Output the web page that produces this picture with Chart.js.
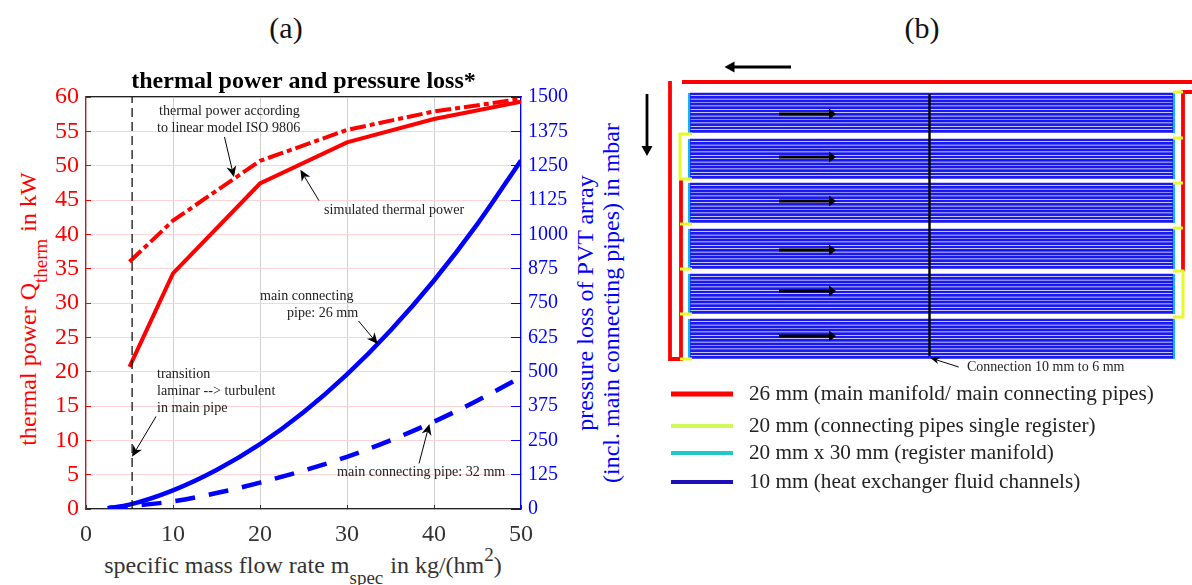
<!DOCTYPE html>
<html>
<head>
<meta charset="utf-8">
<script src="https://cdn.jsdelivr.net/npm/chart.js@4"></script>
<style>
  html, body { margin: 0; padding: 0; background: #fff; }
  body { position: relative; width: 1192px; height: 585px; overflow: hidden; font-family: "Liberation Serif", serif; }
  canvas { position: absolute; top: 0; }
  .txt { position: absolute; white-space: nowrap; transform: translate(-50%, -50%); font-size: 24px; line-height: 1; }
  .rot { transform: translate(-50%, -50%) rotate(-90deg); }
  .txt sub { font-size: 19px; line-height: 0; vertical-align: -11px; margin-right: 7px; }
  .txt sup { font-size: 19px; line-height: 0; vertical-align: 12px; }
</style>
</head>
<body>
<div class="txt" style="left:286px;top:28px;font-size:30px;color:#111">(a)</div>
<div class="txt" style="left:922px;top:28px;font-size:30px;color:#111">(b)</div>
<div class="txt rot" style="left:28px;top:309px;color:#f00">thermal power Q<sub>therm</sub>in kW</div>
<div class="txt rot" style="left:585px;top:303px;color:#00f">pressure loss of PVT array</div>
<div class="txt rot" style="left:611px;top:303px;color:#00f">(incl. main connecting pipes) in mbar</div>
<div class="txt" style="left:303px;top:565px;color:#333">specific mass flow rate m<sub>spec</sub>in kg/(hm<sup>2</sup>)</div>
<canvas id="chart-a" width="608" height="585" style="left:0"></canvas>
<canvas id="chart-b" width="552" height="585" style="left:640px"></canvas>
<script>
// panel (a) values
const simX = [5, 10, 20, 30, 40, 50];
const simulatedPower = [20.7, 34.3, 47.4, 53.4, 56.8, 59.3];
const linearModelPower = [36, 42, 50.7, 55.2, 57.9, 59.7];
const pipeX = [2.5, 5, 10, 15, 20, 25, 30, 35, 40, 45, 50];
const pressure26mm = [3, 16, 68, 142, 236, 352, 490, 650, 832, 1038, 1269];
const pressure32mm = [3, 10, 28, 58, 96, 140, 190, 250, 318, 395, 480];
const transitionX = [5.3, 5.3];
const transitionY = [0, 60];

// panel (b) schematic, in drawing units of its own hidden axes
const registerTops = [93, 139, 183, 229, 274, 319];
const channelOffsets = [1, 4.4, 7.8, 11.2, 14.6, 18, 21.4, 24.8, 28.2, 31.6, 35, 38.4];
const channelEnds = [50, 533];
const mainPipes = [
  [[42, 82], [552, 82]],
  [[30, 81], [30, 359], [41, 359], [41, 179]],
  [[552, 92], [543, 92], [543, 271]]
];
const connectingPipes = [
  [[52, 134], [40, 134], [40, 179], [52, 179]],
  [[40, 224], [52, 224]],
  [[40, 269], [52, 269]],
  [[40, 314], [52, 314]],
  [[40, 359], [52, 359]],
  [[533, 92], [543, 92]],
  [[533, 138], [543, 138]],
  [[533, 183], [543, 183]],
  [[533, 228], [543, 228]],
  [[533, 271], [543, 271], [543, 317], [533, 317]]
];
const connectionLine = [[289.5, 94], [289.5, 356]];
const legendRows = [394, 426, 453, 482];
const legendNames = [
  '26 mm (main manifold/ main connecting pipes)',
  '20 mm (connecting pipes single register)',
  '20 mm x 30 mm (register manifold)',
  '10 mm (heat exchanger fluid channels)'
];
const legendColors = ['#ff0000', '#d0fa5c', '#22c8c8', '#1c10b8'];

function zip(xs, ys) {
  return xs.map((x, i) => ({ x: x, y: ys[i] }));
}

function pathPoints(paths) {
  const pts = [];
  paths.forEach(p => {
    p.forEach(c => pts.push({ x: c[0], y: c[1] }));
    pts.push({ x: null, y: null });
  });
  return pts;
}

// arrows and free labels are placed through the chart's scales
function notesPlugin(arrows, labels) {
  return {
    id: 'notes',
    afterDatasetsDraw(chart) {
      const c = chart.ctx;
      arrows.forEach(a => {
        const xs = chart.scales.x, ys = chart.scales.y;
        const x1 = xs.getPixelForValue(a.from[0]), y1 = ys.getPixelForValue(a.from[1]);
        const x2 = xs.getPixelForValue(a.to[0]), y2 = ys.getPixelForValue(a.to[1]);
        const ang = Math.atan2(y2 - y1, x2 - x1);
        const len = a.head || 11, wide = a.wide || 5;
        c.save();
        c.strokeStyle = c.fillStyle = '#000';
        c.lineWidth = a.width || 1;
        c.beginPath();
        c.moveTo(x1, y1);
        c.lineTo(x2 - Math.cos(ang) * len * 0.7, y2 - Math.sin(ang) * len * 0.7);
        c.stroke();
        c.translate(x2, y2);
        c.rotate(ang);
        c.beginPath();
        c.moveTo(0, 0);
        c.lineTo(-len, -wide);
        c.lineTo(-len * (a.notch || 0.7), 0);
        c.lineTo(-len, wide);
        c.closePath();
        c.fill();
        c.restore();
      });
      labels.forEach(l => {
        c.save();
        c.font = (l.size || 14.1) + 'px "Liberation Serif"';
        c.fillStyle = '#222';
        c.textBaseline = 'middle';
        c.fillText(l.text, chart.scales.x.getPixelForValue(l.x), chart.scales.y.getPixelForValue(l.y));
        c.restore();
      });
    }
  };
}

const notesA = notesPlugin([
  { from: [15.92, 54.17], to: [17.0, 48.35] },
  { from: [26.78, 44.9], to: [24.64, 49.4] },
  { from: [31.33, 27.38], to: [33.53, 24.03] },
  { from: [38.28, 6.64], to: [39.47, 12.38] },
  { from: [8.05, 13.47], to: [5.29, 7.62] }
], [
  { text: 'thermal power according', x: 8.39, y: 57.96 },
  { text: 'to linear model ISO 9806', x: 8.16, y: 55.48 },
  { text: 'simulated thermal power', x: 27.36, y: 43.54 },
  { text: 'main connecting', x: 20, y: 31.02 },
  { text: 'pipe: 26 mm', x: 23.1, y: 28.54 },
  { text: 'transition', x: 8.16, y: 19.66 },
  { text: 'laminar --> turbulent', x: 8.16, y: 17.18 },
  { text: 'in main pipe', x: 8.16, y: 14.71 },
  { text: 'main connecting pipe: 32 mm', x: 28.85, y: 5.39 }
]);

new Chart(document.getElementById('chart-a').getContext('2d'), {
  type: 'scatter',
  data: {
    datasets: [
      { label: 'transition', data: zip(transitionX, transitionY), showLine: true, borderColor: '#000', borderWidth: 1.2, borderDash: [9, 5], pointRadius: 0, yAxisID: 'y' },
      { label: 'thermal power, linear model ISO 9806', data: zip(simX, linearModelPower), showLine: true, borderColor: '#f00', borderWidth: 4, borderDash: [16, 4, 5, 4], pointRadius: 0, yAxisID: 'y' },
      { label: 'simulated thermal power', data: zip(simX, simulatedPower), showLine: true, borderColor: '#f00', borderWidth: 4, pointRadius: 0, yAxisID: 'y' },
      { label: 'pressure loss, pipe 26 mm', data: zip(pipeX, pressure26mm), showLine: true, borderColor: '#00f', borderWidth: 4.5, cubicInterpolationMode: 'monotone', pointRadius: 0, yAxisID: 'y2' },
      { label: 'pressure loss, pipe 32 mm', data: zip(pipeX, pressure32mm), showLine: true, borderColor: '#00f', borderWidth: 4.5, borderDash: [20, 14], cubicInterpolationMode: 'monotone', pointRadius: 0, yAxisID: 'y2' }
    ]
  },
  options: {
    responsive: false,
    animation: false,
    events: [],
    layout: { padding: 0 },
    plugins: {
      legend: { display: false },
      tooltip: { enabled: false },
      title: {
        display: true,
        fullSize: false,
        text: 'thermal power and pressure loss*',
        color: '#000',
        font: { family: '"Liberation Serif"', size: 24, weight: 'bold' },
        padding: { top: 67.5, bottom: 0.7 }
      }
    },
    scales: {
      x: {
        type: 'linear', min: 0, max: 50,
        afterFit: s => { s.height = 76; },
        ticks: { stepSize: 10, color: '#333', padding: 15, maxRotation: 0, font: { family: '"Liberation Serif"', size: 24 } },
        grid: { color: '#d0d0d0', tickColor: '#333', tickLength: -4 },
        border: { color: '#222', width: 1.2 }
      },
      xTop: {
        type: 'linear', position: 'top', min: 0, max: 50,
        afterFit: s => { s.height = 0; },
        ticks: { display: false },
        grid: { display: false },
        border: { color: '#222', width: 1.2 }
      },
      y: {
        min: 0, max: 60,
        afterFit: s => { s.width = 86; },
        ticks: { stepSize: 5, color: '#f00', padding: 12, font: { family: '"Liberation Serif"', size: 24 } },
        grid: { color: '#fbd5d5', tickColor: '#f00', tickLength: -5 },
        border: { color: '#f00', width: 1.2 }
      },
      y2: {
        position: 'right', min: 0, max: 1500,
        afterFit: s => { s.width = 87; },
        ticks: { stepSize: 125, color: '#00f', padding: 17, format: { useGrouping: false }, font: { family: '"Liberation Serif"', size: 20 } },
        grid: { drawOnChartArea: false, tickColor: '#00f', tickLength: -10 },
        border: { color: '#00f', width: 1.2 }
      }
    }
  },
  plugins: [notesA]
});

// panel (b)
const channelPaths = [];
registerTops.forEach(top => {
  channelOffsets.forEach(off => {
    channelPaths.push([[channelEnds[0], top + off], [channelEnds[1], top + off]]);
  });
});
const manifoldPaths = [];
registerTops.forEach(top => {
  manifoldPaths.push([[channelEnds[0] - 0.5, top], [channelEnds[0] - 0.5, top + 40]]);
  manifoldPaths.push([[channelEnds[1] + 0.5, top], [channelEnds[1] + 0.5, top + 40]]);
});

const flowArrows = [114, 157, 201, 250, 291, 336].map(y => (
  { from: [139, y], to: [196, y], width: 3, head: 7, wide: 5.5, notch: 1 }
));

const notesB = notesPlugin(flowArrows.concat([
  { from: [151, 67], to: [84.5, 67], width: 2.8, head: 10, wide: 5.5, notch: 1 },
  { from: [7, 94], to: [7, 156], width: 2.8, head: 10, wide: 5.5, notch: 1 },
  { from: [318.7, 367], to: [290.5, 358], width: 1, head: 9, wide: 3.5 }
]), [
  { text: 'Connection 10 mm to 6 mm', x: 327, y: 367, size: 14 }
].concat(legendNames.map((name, i) => ({ text: name, x: 109, y: legendRows[i], size: 21.2 }))));

const lineDefaults = { showLine: true, pointRadius: 0, spanGaps: false };

// Chart.js paints the first dataset last, so the topmost marks come first
new Chart(document.getElementById('chart-b').getContext('2d'), {
  type: 'scatter',
  data: {
    datasets: legendNames.map((name, i) => (
      { ...lineDefaults, label: name, data: pathPoints([[[31, legendRows[i]], [93, legendRows[i]]]]), borderColor: legendColors[i], borderWidth: i === 0 ? 5 : 4 }
    )).concat([
      { ...lineDefaults, label: 'connection', data: pathPoints([connectionLine]), borderColor: '#000', borderWidth: 2.4 },
      { ...lineDefaults, label: 'connecting pipes', data: pathPoints(connectingPipes), borderColor: '#e6fa28', borderWidth: 3 },
      { ...lineDefaults, label: 'main pipes', data: pathPoints(mainPipes), borderColor: '#f00', borderWidth: 3.8 },
      { ...lineDefaults, label: 'fluid channels', data: pathPoints(channelPaths), borderColor: '#1a1af0', borderWidth: 2.7 },
      { ...lineDefaults, label: 'register manifold', data: pathPoints(manifoldPaths), borderColor: '#14b4f0', borderWidth: 3 }
    ])
  },
  options: {
    responsive: false,
    animation: false,
    events: [],
    layout: { padding: 0 },
    plugins: { legend: { display: false }, tooltip: { enabled: false } },
    scales: {
      x: { type: 'linear', min: 0, max: 552, display: false },
      y: { min: 0, max: 585, reverse: true, display: false }
    }
  },
  plugins: [notesB]
});
</script>
</body>
</html>
